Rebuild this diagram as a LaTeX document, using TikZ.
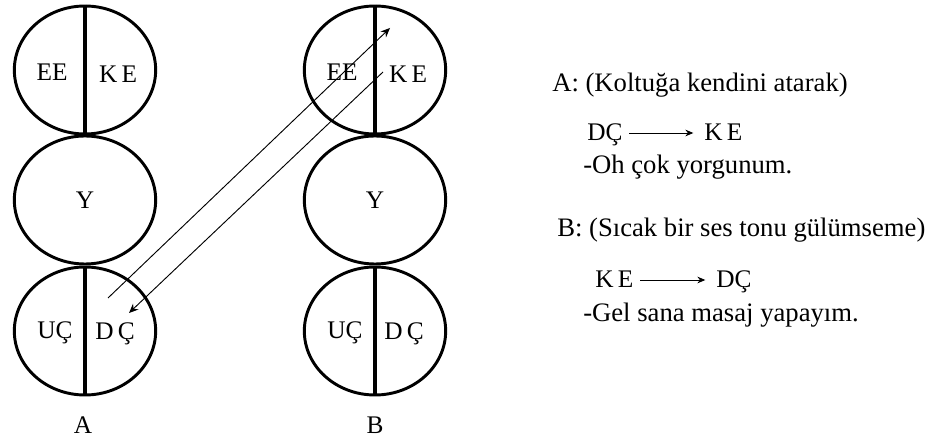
\documentclass[tikz,border=0pt]{standalone}
\usepackage{fontspec}
\setmainfont{Liberation Serif}
\usepackage{tikz}
\usetikzlibrary{arrows.meta,shapes.geometric,positioning}
\tikzset{
  ego/.style={draw=black,ellipse,line width=2.2pt,minimum width=106pt,minimum height=96pt,inner sep=0pt},
  part/.style={font=\fontsize{19}{22}\selectfont},
  divider/.style={draw=black,line width=2.6pt},
  msg/.style={-{Stealth[length=7pt,width=6pt]},draw=black,line width=0.7pt},
  talk/.style={anchor=west,font=\fontsize{20}{24}\selectfont,inner sep=0pt},
  tag/.style={anchor=west,font=\fontsize{19}{24}\selectfont,inner sep=0pt,text height=12pt,text depth=0pt},
  inline/.style={-{Stealth[length=6pt,width=5pt]},draw=black,line width=0.7pt,shorten <=5pt,shorten >=8pt},
}

\begin{document}
\begin{tikzpicture}[x=0.75pt,y=-0.75pt]
  \useasboundingbox (0,0) rectangle (938,441);
  % person A
  \node[ego] (eA) at (85,70) {};
  \node[ego] (yA) at (85,200) {};
  \node[ego] (cA) at (85,331) {};
  \draw[divider] (eA.north) -- (eA.south);
  \draw[divider] (cA.north) -- (cA.south);
  \node[part] at (52,72) {EE};
  \node[part] at (118,74) {K\,E};
  \node[part] at (85,200) {Y};
  \node[part] at (55,333) {UÇ};
  \node[part] at (115,334) {D\,Ç};
  \node[part] (nA) at (83,425) {A};
  % person B
  \node[ego] (eB) at (375,70) {};
  \node[ego] (yB) at (375,200) {};
  \node[ego] (cB) at (375,331) {};
  \draw[divider] (eB.north) -- (eB.south);
  \draw[divider] (cB.north) -- (cB.south);
  \node[part] at (342,72) {EE};
  \node[part] at (408,74) {K\,E};
  \node[part] at (345,333) {UÇ};
  \node[part] at (375,200) {Y};
  \node[part] at (404,334) {D\,Ç};
  \node[part] (nB) at (375,425) {B};
  % transactions
  \coordinate (dcA) at (108,298);
  \coordinate (keB) at (390,28);
  \coordinate (keB2) at (383,72);
  \coordinate (dcA2) at (129,313);
  \draw[msg] (dcA) -- (keB);
  \draw[msg] (keB2) -- (dcA2);
  % dialogue
  \node[talk] (tA) at (552,85) {A: (Koltuğa kendini atarak)};
  \node[tag] (fA) at (587,133) {DÇ};
  \node[tag] (toA) at (704,133) {K\,E};
  \draw[inline] (fA) -- (toA);
  \node[talk] (sayA) at (583,167) {-Oh çok yorgunum.};
  \node[talk] (tB) at (557,230) {B: (Sıcak bir ses tonu gülümseme)};
  \node[tag] (fB) at (595,280) {K\,E};
  \node[tag] (toB) at (716,280) {DÇ};
  \draw[inline] (fB) -- (toB);
  \node[talk] (sayB) at (583,315) {-Gel sana masaj yapayım.};
\end{tikzpicture}
\end{document}
